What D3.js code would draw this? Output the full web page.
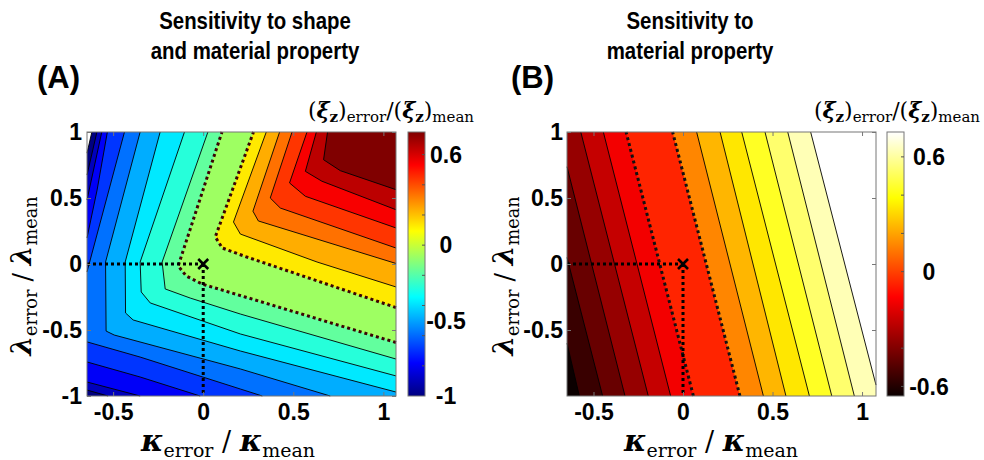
<!DOCTYPE html>
<html>
<head>
<meta charset="utf-8">
<title>Sensitivity contours</title>
<script src="https://cdn.jsdelivr.net/npm/d3@7"></script>
<style>
html, body { margin: 0; background: #fff; }
svg { display: block; }
</style>
</head>
<body>
<svg id="fig" width="984" height="460"></svg>
<script>
// contour levels, each band is coloured by its lower bound
var levelsA = [-1, -0.9, -0.8, -0.7, -0.6, -0.5, -0.4, -0.3, -0.2, -0.1, 0.1, 0.2, 0.3, 0.4, 0.5, 0.6, 0.7];
var levelsB = [-0.6, -0.5, -0.4, -0.3, -0.2, -0.1, 0.1, 0.2, 0.3, 0.4, 0.5, 0.6, 0.7];
var dottedLevels = [-0.1, 0.1];

// contour pieces as [kappa, lambda] points, higher values on the right-hand side
var piecesA = [
  [[[-0.645, 0.84], [-0.618, 1]]],
  [[[-0.528, -1], [-0.645, -0.955]], [[-0.645, 0.674], [-0.59, 1]]],
  [[[-0.35, -1], [-0.645, -0.894]], [[-0.645, 0.485], [-0.563, 1]]],
  [[[-0.017, -1], [-0.35, -0.856], [-0.645, -0.742]], [[-0.645, 0.197], [-0.589, 0.56], [-0.532, 1]]],
  [[[0.328, -1], [0.206, -0.947], [-0.35, -0.705], [-0.645, -0.59]], [[-0.645, -0.06], [-0.437, 1]]],
  [[[0.705, -1], [0.206, -0.795], [-0.494, -0.538], [-0.539, -0.508], [-0.542, 0.015], [-0.35, 1]]],
  [[[1.07, -0.97], [0.206, -0.659], [-0.389, -0.424], [-0.431, -0.371], [-0.433, 0.015], [-0.239, 1]]],
  [[[1.07, -0.848], [0.206, -0.53], [-0.294, -0.295], [-0.344, -0.212], [-0.35, 0.015], [-0.104, 1]]],
  [[[1.07, -0.72], [0.206, -0.379], [-0.072, -0.258], [-0.211, -0.189], [-0.228, 0.015], [0.026, 1]]],
  [[[1.07, -0.595], [0.233, -0.25], [-0.006, -0.152], [-0.094, -0.091], [-0.139, -0.015], [0.104, 1]]],
  [[[1.07, -0.33], [0.233, 0.057], [0.106, 0.121], [0.067, 0.205], [0.279, 1]]],
  [[[1.07, -0.174], [0.632, 0.015], [0.206, 0.227], [0.168, 0.318], [0.35, 1]]],
  [[[1.07, 0.004], [0.306, 0.326], [0.276, 0.40], [0.424, 1]]],
  [[[1.07, 0.121], [0.428, 0.424], [0.372, 0.5], [0.493, 1]]],
  [[[1.07, 0.273], [0.567, 0.513], [0.479, 0.614], [0.576, 1]]],
  [[[1.07, 0.411], [0.659, 0.627], [0.567, 0.702], [0.628, 1]]],
  [[[1.07, 0.563], [0.761, 0.707], [0.668, 0.79], [0.69, 1]]]
];

// panel B contours are straight lines
var piecesB = [
  [[[-0.579, -1], [-0.648, -0.6]]],
  [[[-0.449, -1], [-0.648, 0.05]]],
  [[[-0.324, -1], [-0.648, 0.737]]],
  [[[-0.194, -1], [-0.571, 1]]],
  [[[-0.069, -1], [-0.445, 1]]],
  [[[0.058, -1], [-0.318, 1]]],
  [[[0.318, -1], [-0.058, 1]]],
  [[[0.449, -1], [0.076, 1]]],
  [[[0.575, -1], [0.207, 1]]],
  [[[0.706, -1], [0.328, 1]]],
  [[[0.831, -1], [0.458, 1]]],
  [[[0.957, -1], [0.585, 1]]],
  [[[1.078, -0.917], [0.713, 1]]]
];

var xTicks = [-0.5, 0, 0.5, 1];
var yTicksA = [-1, -0.5, 0, 0.5, 1];
var yTicksB = [-0.5, 0, 0.5, 1];
var fillRangeA = [-1, 0.7];     // colour limits used for the bands
var fillRangeB = [-0.7, 0.7];
var cbRangeA = [-1, 0.75];      // range shown on the colour bars
var cbRangeB = [-0.65, 0.73];
var cbLabelsA = [-1, -0.5, 0, 0.6];
var cbLabelsB = [-0.6, 0, 0.6];
var cbMinorA = [-0.8, -0.6, -0.4, -0.2, 0, 0.2, 0.4, 0.6];
var cbMinorB = [-0.6, -0.4, -0.2, 0, 0.2, 0.4, 0.6];
var nominal = [0, 0];

var sans = '"Liberation Sans", Arial, Helvetica, sans-serif';
var serif = '"DejaVu Serif", "Liberation Serif", serif';

var jet = d3.scaleLinear()
  .domain([0, 0.125, 0.25, 0.375, 0.5, 0.625, 0.75, 0.875, 1])
  .range(["#000080", "#0000ff", "#0080ff", "#00ffff", "#80ff80", "#ffff00", "#ff8000", "#ff0000", "#800000"])
  .clamp(true);
var hot = d3.scaleLinear()
  .domain([0, 0.375, 0.75, 1])
  .range(["#0b0000", "#ff0000", "#ffff00", "#ffffff"])
  .clamp(true);

var svg = d3.select("#fig");

// close contour pieces into filled regions by walking the frame clockwise
function closeRegions(pieces, xd, yd) {
  var W = xd[1] - xd[0], H = yd[1] - yd[0], P = 2 * (W + H);
  function perim(pt) {
    var d = [Math.abs(pt[1] - yd[1]), Math.abs(pt[0] - xd[1]), Math.abs(pt[1] - yd[0]), Math.abs(pt[0] - xd[0])];
    var e = d.indexOf(d3.min(d));
    if (e === 0) return pt[0] - xd[0];
    if (e === 1) return W + (yd[1] - pt[1]);
    if (e === 2) return W + H + (xd[1] - pt[0]);
    return 2 * W + H + (pt[1] - yd[0]);
  }
  var corners = [[0, [xd[0], yd[1]]], [W, [xd[1], yd[1]]], [W + H, [xd[1], yd[0]]], [2 * W + H, [xd[0], yd[0]]]];
  var used = pieces.map(function() { return false; });
  var polys = [];
  pieces.forEach(function(pc, i) {
    if (used[i]) return;
    var poly = [], k = i;
    while (!used[k]) {
      used[k] = true;
      poly = poly.concat(pieces[k]);
      var sEnd = perim(pieces[k][pieces[k].length - 1]);
      var best = -1, bestD = Infinity;
      pieces.forEach(function(q, j) {
        var d = ((perim(q[0]) - sEnd) % P + P) % P;
        if (d < bestD) { bestD = d; best = j; }
      });
      corners.map(function(c) { return [((c[0] - sEnd) % P + P) % P, c[1]]; })
        .filter(function(c) { return c[0] > 1e-9 && c[0] < bestD; })
        .sort(function(a, b) { return a[0] - b[0]; })
        .forEach(function(c) { poly.push(c[1]); });
      k = best;
    }
    polys.push(poly);
  });
  return polys;
}

function drawPanel(p) {
  var x = d3.scaleLinear().domain(p.xDomain).range([p.left, p.right]);
  var y = d3.scaleLinear().domain([-1, 1]).range([p.bottom, p.top]);
  var t = d3.scaleLinear().domain(p.fillRange).range([0, 1]);
  var line = d3.line().x(function(d) { return x(d[0]); }).y(function(d) { return y(d[1]); });
  var g = svg.append("g");

  if (p.fillFloor) {
    g.append("rect").attr("x", p.left).attr("y", p.top)
      .attr("width", p.right - p.left).attr("height", p.bottom - p.top)
      .attr("fill", p.cmap(0));
  }
  p.levels.forEach(function(L, i) {
    closeRegions(p.pieces[i], p.xDomain, [-1, 1]).forEach(function(poly) {
      g.append("path").attr("d", line(poly) + "Z").attr("fill", p.cmap(t(L)));
    });
  });
  p.levels.forEach(function(L, i) {
    var dotted = dottedLevels.indexOf(L) >= 0;
    p.pieces[i].forEach(function(pc) {
      g.append("path").attr("d", line(pc)).attr("fill", "none")
        .attr("stroke", dotted ? p.dotColor : "#000")
        .attr("stroke-width", dotted ? 3 : 0.9)
        .attr("stroke-dasharray", dotted ? "3,3" : null);
    });
  });

  // guides to the nominal point
  g.append("path").attr("d", line([[p.xDomain[0], nominal[1]], nominal]) + line([nominal, [nominal[0], -1]]))
    .attr("fill", "none").attr("stroke", "#000").attr("stroke-width", 3).attr("stroke-dasharray", "3,3");
  var mx = x(nominal[0]), my = y(nominal[1]);
  g.append("path").attr("d", "M" + (mx - 5) + "," + (my - 5) + "L" + (mx + 5) + "," + (my + 5) + "M" + (mx - 5) + "," + (my + 5) + "L" + (mx + 5) + "," + (my - 5))
    .attr("stroke", "#000").attr("stroke-width", 2.6);

  g.append("rect").attr("x", p.left).attr("y", p.top)
    .attr("width", p.right - p.left).attr("height", p.bottom - p.top)
    .attr("fill", "none").attr("stroke", "#777").attr("stroke-width", 1);

  var fmt = function(d) { return String(d); };
  function style(a) {
    a.select(".domain").remove();
    a.selectAll(".tick line").attr("stroke", "#777");
    a.attr("font-family", sans).attr("font-size", 23).attr("font-weight", "bold");
  }
  g.append("g").attr("transform", "translate(0," + p.bottom + ")")
    .call(d3.axisBottom(x).tickValues(xTicks).tickFormat(fmt).tickSizeInner(-4).tickSizeOuter(0).tickPadding(8)).call(style);
  g.append("g").attr("transform", "translate(0," + p.top + ")")
    .call(d3.axisTop(x).tickValues(xTicks).tickFormat("").tickSizeInner(-4).tickSizeOuter(0)).call(style);
  g.append("g").attr("transform", "translate(" + p.left + ",0)")
    .call(d3.axisLeft(y).tickValues(p.yTicks).tickFormat(fmt).tickSizeInner(-4).tickSizeOuter(0).tickPadding(p.yPad)).call(style);
  g.append("g").attr("transform", "translate(" + p.right + ",0)")
    .call(d3.axisRight(y).tickValues(p.yTicks).tickFormat("").tickSizeInner(-4).tickSizeOuter(0)).call(style);

  // colorbar
  var cy = d3.scaleLinear().domain(p.cbRange).range([p.bottom, p.top]);
  var gid = "grad" + p.id;
  var grad = svg.append("defs").append("linearGradient").attr("id", gid)
    .attr("x1", 0).attr("y1", 1).attr("x2", 0).attr("y2", 0);
  d3.range(0, 1.0001, 0.025).forEach(function(s) {
    grad.append("stop").attr("offset", s).attr("stop-color", p.cmap(s));
  });
  g.append("rect").attr("x", p.cbLeft).attr("y", p.top).attr("width", 17).attr("height", p.bottom - p.top)
    .attr("fill", "url(#" + gid + ")").attr("stroke", "#777").attr("stroke-width", 1);
  p.cbMinor.forEach(function(v) {
    g.append("line").attr("x1", p.cbLeft + 14).attr("x2", p.cbLeft + 17)
      .attr("y1", cy(v)).attr("y2", cy(v)).attr("stroke", "#555").attr("stroke-width", 1);
  });
  p.cbLabels.forEach(function(v) {
    g.append("text").attr("x", p.cbLabelX).attr("y", cy(v)).attr("dy", "0.36em")
      .attr("text-anchor", "middle").attr("font-family", sans).attr("font-size", 23).attr("font-weight", "bold")
      .text(String(v));
  });

  // colorbar title (xi_z)_error/(xi_z)_mean
  var ct = g.append("text").attr("x", p.cbTitleX).attr("y", 118).attr("text-anchor", "end")
    .attr("font-family", serif).attr("font-size", 22);
  ct.append("tspan").text("(");
  ct.append("tspan").attr("font-weight", "bold").attr("font-style", "italic").text("ξ");
  ct.append("tspan").attr("font-weight", "bold").attr("font-size", 15).attr("dy", 4).text("z");
  ct.append("tspan").attr("dy", -4).text(")");
  ct.append("tspan").attr("font-size", 15).attr("dy", 4).text("error");
  ct.append("tspan").attr("dy", -4).text("/(");
  ct.append("tspan").attr("font-weight", "bold").attr("font-style", "italic").text("ξ");
  ct.append("tspan").attr("font-weight", "bold").attr("font-size", 15).attr("dy", 4).text("z");
  ct.append("tspan").attr("dy", -4).text(")");
  ct.append("tspan").attr("font-size", 15).attr("dy", 4).text("mean");

  // axis titles
  function mathLabel(sel, sym, k) {
    sel.attr("font-family", serif).attr("text-anchor", "middle");
    sel.append("tspan").attr("font-size", 30 * k).attr("font-weight", "bold").attr("font-style", "italic").text(sym);
    sel.append("tspan").attr("font-size", 19 * k).attr("dy", 6).text("error");
    sel.append("tspan").attr("font-size", 27 * k).attr("dy", -6).text(" / ");
    sel.append("tspan").attr("font-size", 30 * k).attr("font-weight", "bold").attr("font-style", "italic").text(sym);
    sel.append("tspan").attr("font-size", 19 * k).attr("dy", 6).text("mean");
  }
  mathLabel(g.append("text").attr("x", p.xLabelX).attr("y", 451), "κ", 1);
  mathLabel(g.append("text").attr("transform", "translate(" + p.yLabelX + ",276) rotate(-90)"), "λ", 0.93);

  // title (condensed bold, as in the original) and panel letter
  p.title.forEach(function(s, i) {
    var tt = g.append("text").attr("x", p.titleX).attr("y", 29 + 30 * i).attr("text-anchor", "middle")
      .attr("font-family", sans).attr("font-size", 24).attr("font-weight", "bold").text(s);
    var len = tt.node().getComputedTextLength();
    tt.attr("textLength", len * 0.85).attr("lengthAdjust", "spacingAndGlyphs");
  });
  g.append("text").attr("x", p.letterX).attr("y", 88).attr("font-family", sans)
    .attr("font-size", 31).attr("font-weight", "bold").text(p.letter);
}

drawPanel({
  id: "A", left: 87, right: 396, top: 132, bottom: 396, xDomain: [-0.645, 1.07],
  levels: levelsA, pieces: piecesA, cmap: jet, fillRange: fillRangeA, cbRange: cbRangeA, fillFloor: false, dotColor: "#3d0404",
  yTicks: yTicksA, yPad: 5, cbLeft: 408, cbLabels: cbLabelsA, cbMinor: cbMinorA, cbLabelX: 446, cbTitleX: 474,
  xLabelX: 228, yLabelX: 31, title: ["Sensitivity to shape", "and material property"], titleX: 255,
  letter: "(A)", letterX: 37
});
drawPanel({
  id: "B", left: 567, right: 876, top: 132, bottom: 396, xDomain: [-0.648, 1.078],
  levels: levelsB, pieces: piecesB, cmap: hot, fillRange: fillRangeB, cbRange: cbRangeB, fillFloor: true, dotColor: "#111",
  yTicks: yTicksB, yPad: 4, cbLeft: 887, cbLabels: cbLabelsB, cbMinor: cbMinorB, cbLabelX: 929, cbTitleX: 980,
  xLabelX: 711, yLabelX: 513, title: ["Sensitivity to", "material property"], titleX: 690,
  letter: "(B)", letterX: 511
});
</script>
</body>
</html>
